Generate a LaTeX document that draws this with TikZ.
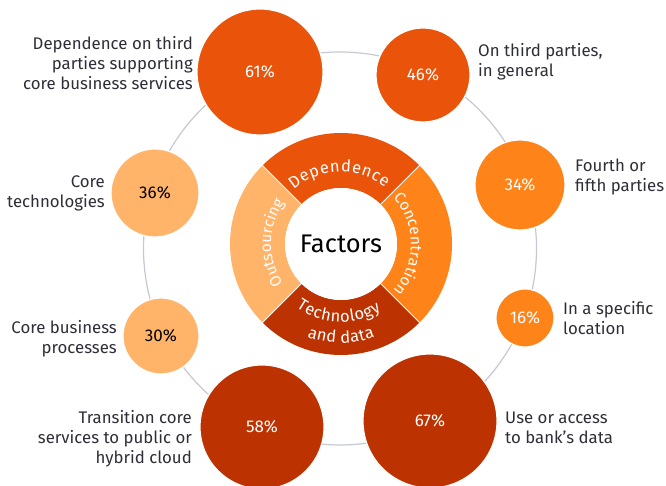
\documentclass[tikz,border=0pt]{standalone}
\usepackage{fontspec}
\setmainfont{Fira Sans}
\usetikzlibrary{decorations.text}
\definecolor{cdark}{HTML}{E9530A}
\definecolor{cmid}{HTML}{FE841A}
\definecolor{clight}{HTML}{FFB46A}
\definecolor{cbrown}{HTML}{BC3200}
\definecolor{ringc}{HTML}{C6C8D2}
\definecolor{labc}{HTML}{2E2E38}
\newcommand\segf{\fontsize{15.5}{18}\selectfont}
\newcommand\segg{\fontsize{16.5}{18}\selectfont}
\begin{document}
\begin{tikzpicture}[x=1pt,y=1pt,
  bub/.style={circle, draw=white, line width=1.2pt, inner sep=0pt, font=\fontsize{17}{20}\selectfont, text=white},
  lab/.style={inner sep=0pt, font=\fontsize{16.8}{20}\selectfont, text=labc},
  seg/.style={decorate, decoration={text along path, text color=white, text align={fit to path}, text={|\segf|#1}}},
  segb/.style={decorate, decoration={text along path, text color=white, text align={fit to path}, text={|\segg|#1}}},
  sep/.style={draw=white, line width=1pt}
  ]
\useasboundingbox (0,0) rectangle (666,486);
\coordinate (R) at (340,237.5);
\coordinate (C) at (341,242);
\draw[ringc, line width=1.2pt] (R) circle[radius=196.5];
% donut sectors
\fill[cdark] ([shift={(45:56)}]C) -- ([shift={(45:111)}]C) arc[start angle=45,end angle=135,radius=111] -- ([shift={(135:56)}]C) arc[start angle=135,end angle=45,radius=56] -- cycle;
\fill[clight] ([shift={(135:56)}]C) -- ([shift={(135:111)}]C) arc[start angle=135,end angle=225,radius=111] -- ([shift={(225:56)}]C) arc[start angle=225,end angle=135,radius=56] -- cycle;
\fill[cbrown] ([shift={(225:56)}]C) -- ([shift={(225:111)}]C) arc[start angle=225,end angle=315,radius=111] -- ([shift={(315:56)}]C) arc[start angle=315,end angle=225,radius=56] -- cycle;
\fill[cmid] ([shift={(-45:56)}]C) -- ([shift={(-45:111)}]C) arc[start angle=-45,end angle=45,radius=111] -- ([shift={(45:56)}]C) arc[start angle=45,end angle=-45,radius=56] -- cycle;
\foreach \a in {45,135,225,315}
  \draw[sep] ([shift={(\a:55)}]C) -- ([shift={(\a:112)}]C);
\fill[white] (C) circle[radius=56];
% segment labels
\path[segb=Dependence] ([shift={(131:72)}]C) arc[start angle=131,end angle=52,radius=72];
\path[seg=Concentration] ([shift={(42:70)}]C) arc[start angle=42,end angle=-42,radius=70];
\path[seg=Outsourcing] ([shift={(214:70)}]C) arc[start angle=214,end angle=146,radius=70];
\path[segb=Technology] ([shift={(235:78)}]C) arc[start angle=235,end angle=301,radius=78];
\path[segb={and data}] ([shift={(250:99)}]C) arc[start angle=250,end angle=290,radius=99];
\node[inner sep=0pt, font=\fontsize{25.5}{28}\selectfont, text=black] (fac) at (C) {Factors};
% bubbles
\node[bub, fill=cdark, minimum size=126pt] (b61) at (260,414) {61\%};
\node[bub, fill=cdark, minimum size=94pt] (b46) at (423,411) {46\%};
\node[bub, fill=cmid, minimum size=90pt] (b34) at (520,301) {34\%};
\node[bub, fill=cmid, minimum size=58pt] (b16) at (525,168) {16\%};
\node[bub, fill=cbrown, minimum size=134pt] (b67) at (430,65) {67\%};
\node[bub, fill=cbrown, minimum size=124pt] (b58) at (262,59) {58\%};
\node[bub, fill=clight, minimum size=76pt, text=black] (b30) at (161,150) {30\%};
\node[bub, fill=clight, minimum size=88pt, text=black] (b36) at (155,293) {36\%};
% labels
\node[lab, anchor=east, align=right] (l61) at (193,423) {Dependence on third\\parties supporting\\core business services};
\node[lab, anchor=west, align=left] (l46) at (478,424) {On third parties,\\in general};
\node[lab, anchor=west, align=left] (l34) at (575,309) {Fourth or\\fifth parties};
\node[lab, anchor=west, align=left] (l16) at (563,168) {In a specific\\location};
\node[lab, anchor=west, align=left] (l67) at (505,58) {Use or access\\to bank’s data};
\node[lab, anchor=east, align=right] (l58) at (192,47) {Transition core\\services to public or\\hybrid cloud};
\node[lab, anchor=east, align=right] (l30) at (117,147) {Core business\\processes};
\node[lab, anchor=east, align=right] (l36) at (105,293) {Core\\technologies};
\end{tikzpicture}
\end{document}
